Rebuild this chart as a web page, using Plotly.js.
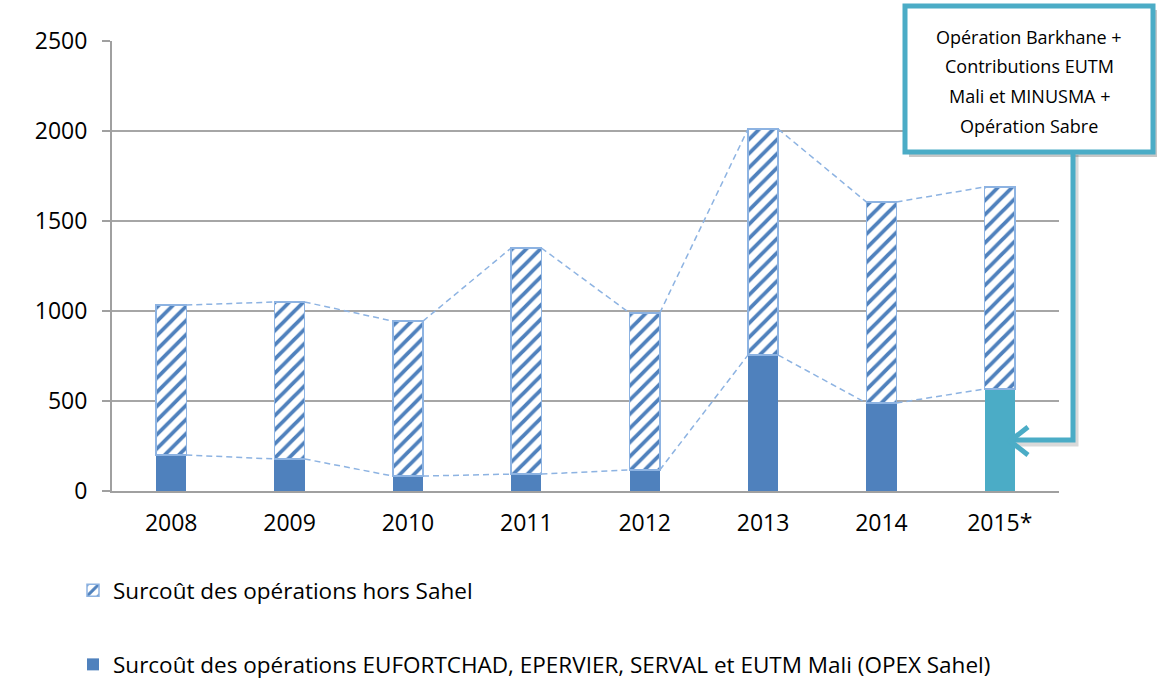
<!DOCTYPE html>
<html>
<head>
<meta charset="utf-8">
<script src="https://cdn.plot.ly/plotly-3.0.1.min.js"></script>
<style>html,body{margin:0;padding:0;background:#fff}#chart{width:1159px;height:681px}</style>
</head>
<body>
<div id="chart"></div>
<script>
// Data (millions d'euros)
const years = ['2008', '2009', '2010', '2011', '2012', '2013', '2014', '2015*'];
const opexSahel = [200, 178, 83, 94, 117, 755, 489, 567];
const horsSahel = [833, 872, 861, 1256, 872, 1256, 1117, 1122];
const yTicks = [0, 500, 1000, 1500, 2000, 2500];
const calloutLines = ['Opération Barkhane +', 'Contributions EUTM', 'Mali et MINUSMA +', 'Opération Sabre'];
const nameHors = 'Surcoût des opérations hors Sahel';
const nameSahel = 'Surcoût des opérations EUFORTCHAD, EPERVIER, SERVAL et EUTM Mali (OPEX Sahel)';

const FONT = 'Open Sans, Lato, sans-serif';
const W = 1159, H = 681;
const L = 112, R = 100, T = 41, B = 190;
const PW = W - L - R, PH = H - T - B;
const px = p => (p - L) / PW;
const py = p => (H - B - p) / PH;

const idx = years.map((_, i) => i);
const bw = 0.255;
const dark = '#4f81bd';
const teal = '#4bacc6';
const lightLine = '#8db3e2';

const sahelColors = years.map((y, i) => i === years.length - 1 ? teal : dark);
const totals = opexSahel.map((v, i) => v + horsSahel[i]);

function seriesLine(vals) {
  const xs = [], ys = [];
  for (let i = 0; i < vals.length - 1; i++) {
    xs.push(i + bw / 2, i + 1 - bw / 2, null);
    ys.push(vals[i], vals[i + 1], null);
  }
  return {
    type: 'scatter', mode: 'lines', x: xs, y: ys, showlegend: false, hoverinfo: 'skip',
    line: {color: lightLine, width: 1.5, dash: '6px,4px'}
  };
}

const traces = [
  {
    type: 'bar', x: idx, y: opexSahel, width: bw, name: nameSahel,
    marker: {color: sahelColors, line: {width: 0}},
    legendgroup: 'b', legendrank: 2
  },
  {
    type: 'bar', x: idx, y: horsSahel, width: bw, name: nameHors,
    marker: {
      color: 'white',
      line: {color: lightLine, width: 1.5},
      pattern: {shape: '/', fgcolor: dark, bgcolor: 'white', size: 10, solidity: 0.38}
    },
    legendgroup: 'a', legendrank: 1
  },
  seriesLine(opexSahel),
  seriesLine(totals)
];

const shapes = [
  {type: 'rect', xref: 'paper', yref: 'paper', x0: px(909), x1: px(1157), y0: py(157), y1: py(10),
   fillcolor: 'rgba(0,0,0,0.22)', line: {width: 0}, layer: 'above'},
  {type: 'rect', xref: 'paper', yref: 'paper', x0: px(905), x1: px(1153), y0: py(152), y1: py(6),
   fillcolor: 'white', line: {color: teal, width: 5}, layer: 'above'},
  {type: 'path', xref: 'paper', yref: 'paper', layer: 'above',
   path: `M ${px(1076)} ${py(155)} L ${px(1076)} ${py(444)} L ${px(1016)} ${py(444)}`,
   line: {color: 'rgba(0,0,0,0.15)', width: 5}},
  {type: 'path', xref: 'paper', yref: 'paper', layer: 'above',
   path: `M ${px(1073)} ${py(154)} L ${px(1073)} ${py(440)} L ${px(1012)} ${py(440)}`,
   line: {color: teal, width: 5}},
  {type: 'path', xref: 'paper', yref: 'paper', layer: 'above',
   path: `M ${px(1028)} ${py(427)} L ${px(1010)} ${py(441)} L ${px(1028)} ${py(455)}`,
   line: {color: teal, width: 5}}
];

const lineYs = [37, 66, 96, 126];
const annotations = calloutLines.map((t, i) => ({
  xref: 'paper', yref: 'paper', x: px(1029), y: py(lineYs[i]), xanchor: 'center', yanchor: 'middle',
  text: t, showarrow: false, font: {family: FONT, size: 18, color: '#000'}
}));

const layout = {
  width: W, height: H,
  margin: {l: L, r: R, t: T, b: B, pad: 0, autoexpand: false},
  paper_bgcolor: 'white', plot_bgcolor: 'white',
  font: {family: FONT, color: '#000'},
  barmode: 'stack',
  xaxis: {
    range: [-0.5, years.length - 0.5], tickmode: 'array', tickvals: idx, ticktext: years,
    showgrid: false, zeroline: false, showline: true, linecolor: '#a0a0a0', linewidth: 2,
    ticks: '', tickfont: {family: FONT, size: 23, color: '#000'}, ticklabelstandoff: 10, fixedrange: true,
    automargin: false
  },
  yaxis: {
    range: [0, 2500], tickmode: 'array', tickvals: yTicks,
    showgrid: true, gridcolor: '#a6a6a6', gridwidth: 2, zeroline: false,
    showline: true, linecolor: '#a0a0a0', linewidth: 2,
    ticks: 'outside', ticklen: 8, tickcolor: '#a0a0a0', tickwidth: 2,
    tickfont: {family: FONT, size: 23, color: '#000'}, ticklabelstandoff: 10, fixedrange: true,
    automargin: false
  },
  legend: {
    orientation: 'v', x: px(73), xanchor: 'left', y: py(569), yanchor: 'top',
    traceorder: 'grouped', tracegroupgap: 42, itemwidth: 30,
    font: {family: FONT, size: 22.5, color: '#000'}, bgcolor: 'rgba(0,0,0,0)'
  },
  shapes: shapes,
  annotations: annotations,
  showlegend: true
};

Plotly.newPlot('chart', traces, layout, {displayModeBar: false, staticPlot: true});
</script>
</body>
</html>
